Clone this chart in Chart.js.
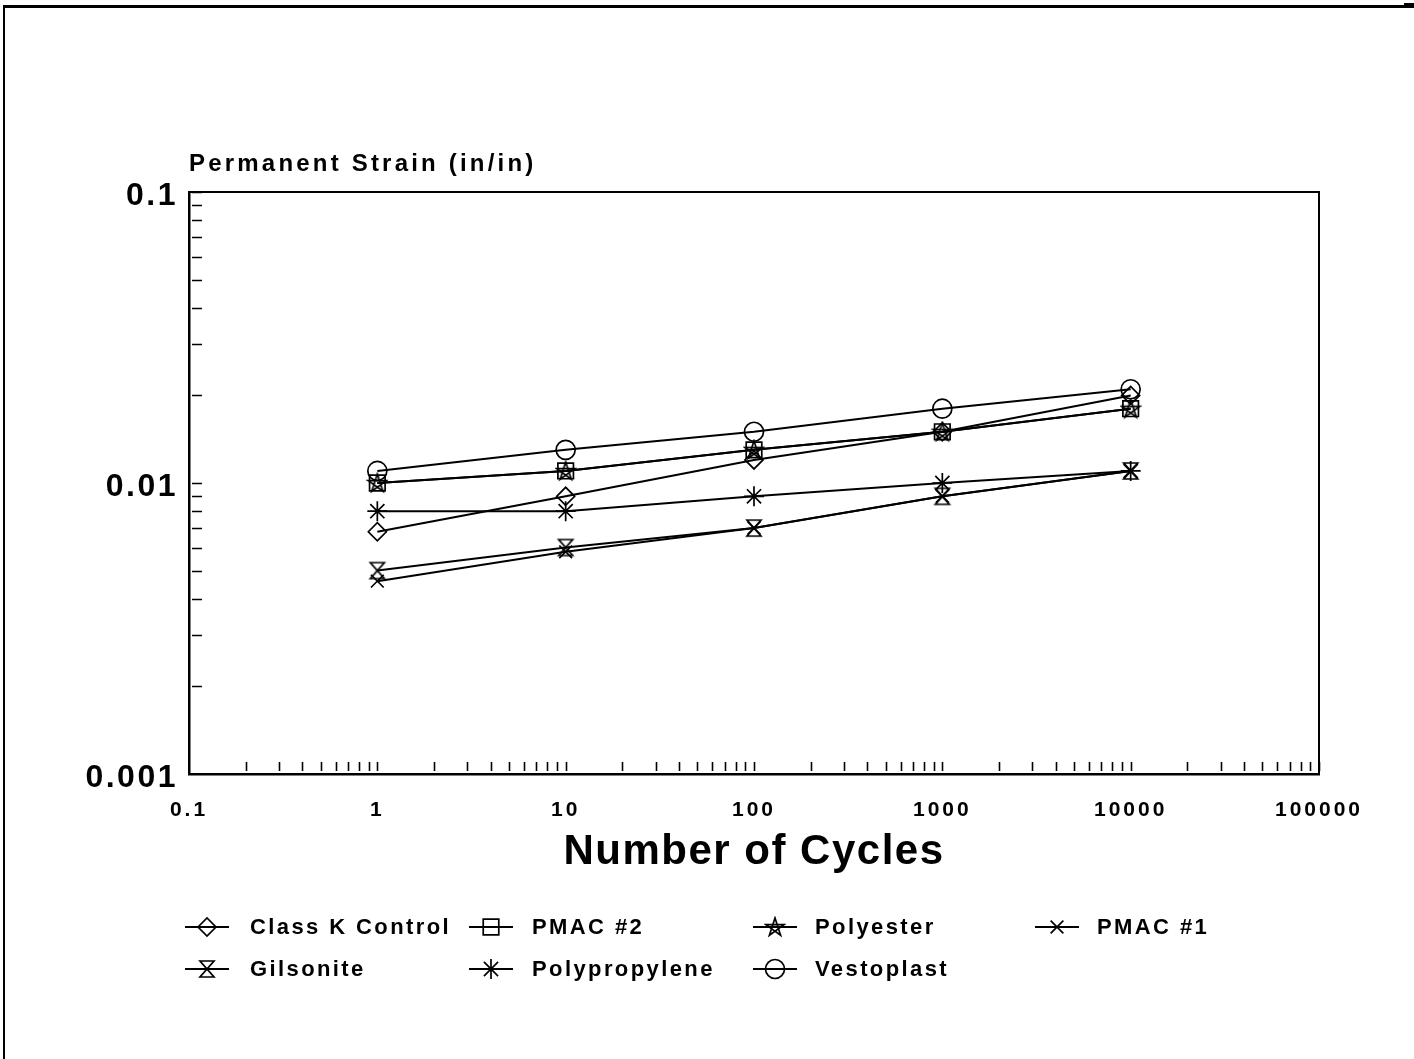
<!DOCTYPE html>
<html>
<head>
<meta charset="utf-8">
<title>Permanent Strain vs Number of Cycles</title>
<script src="https://cdn.jsdelivr.net/npm/chart.js@4.4.1/dist/chart.umd.min.js"></script>
<style>
  html, body { margin: 0; padding: 0; background: #ffffff; }
  canvas { display: block; }
</style>
</head>
<body>
<canvas id="strainChart" width="1414" height="1059"></canvas>
<script>
// ---- data ----
const cycles = [1, 10, 100, 1000, 10000];

const classKControl = [0.0068, 0.009, 0.012, 0.015, 0.020];
const pmac2         = [0.010, 0.011, 0.013, 0.015, 0.018];
const polyester     = [0.010, 0.011, 0.013, 0.015, 0.018];
const pmac1         = [0.0046, 0.0058, 0.007, 0.009, 0.011];
const gilsonite     = [0.005, 0.006, 0.007, 0.009, 0.011];
const polypropylene = [0.008, 0.008, 0.009, 0.010, 0.011];
const vestoplast    = [0.011, 0.013, 0.015, 0.018, 0.021];

const seriesNames = ['Class K Control', 'PMAC #2', 'Polyester', 'PMAC #1',
                     'Gilsonite', 'Polypropylene', 'Vestoplast'];
const seriesValues = [classKControl, pmac2, polyester, pmac1,
                      gilsonite, polypropylene, vestoplast];

const xTickValues = [0.1, 1, 10, 100, 1000, 10000, 100000];
const xTickLabels = ['0.1', '1', '10', '100', '1000', '10000', '100000'];
const yTickValues = [0.001, 0.01, 0.1];
const yTickLabels = ['0.001', '0.01', '0.1'];

const xTitle = 'Number of Cycles';
const yTitle = 'Permanent Strain (in/in)';

// ---- marker shapes ----
const FONT = '"Liberation Sans", Arial, Helvetica, sans-serif';

function makeMarker(size, draw) {
  const c = document.createElement('canvas');
  c.width = size; c.height = size;
  const g = c.getContext('2d');
  g.strokeStyle = '#000';
  g.lineWidth = 1.7;
  draw(g, size);
  return c;
}

// hourglass: two triangles meeting at the centre
const hourglassMarker = makeMarker(20, (g, s) => {
  g.beginPath();
  g.moveTo(3, 2);
  g.lineTo(s - 3, 2);
  g.lineTo(3, s - 2);
  g.lineTo(s - 3, s - 2);
  g.closePath();
  g.stroke();
});

// five-pointed star drawn as a pentagram
const pentagramMarker = makeMarker(22, (g, s) => {
  const cx = s / 2, cy = s / 2 + 0.5, r = s / 2 - 1.5;
  g.beginPath();
  [0, 2, 4, 1, 3].forEach((k, i) => {
    const a = -Math.PI / 2 + k * 2 * Math.PI / 5;
    const px = cx + r * Math.cos(a), py = cy + r * Math.sin(a);
    if (i === 0) g.moveTo(px, py); else g.lineTo(px, py);
  });
  g.closePath();
  g.stroke();
});

const markerStyles = [
  { pointStyle: 'rectRot', radius: 9 },          // Class K Control
  { pointStyle: 'rect', radius: 11 },            // PMAC #2
  { pointStyle: pentagramMarker, radius: 10 },   // Polyester
  { pointStyle: 'crossRot', radius: 9 },         // PMAC #1
  { pointStyle: hourglassMarker, radius: 10 },   // Gilsonite
  { pointStyle: 'star', radius: 10 },            // Polypropylene
  { pointStyle: 'circle', radius: 9.5 }          // Vestoplast
];

const datasets = seriesNames.map((name, i) => ({
  label: name,
  data: seriesValues[i],
  borderColor: '#000000',
  borderWidth: 2,
  backgroundColor: 'rgba(0,0,0,0)',
  pointStyle: markerStyles[i].pointStyle,
  pointRadius: markerStyles[i].radius,
  pointBorderColor: '#000000',
  pointBackgroundColor: 'rgba(0,0,0,0)',
  pointBorderWidth: 1.7,
  tension: 0,
  fill: false
}));

// ---- letter spacing for the axis tick labels ----
const TICK_SPACING = { x: '3px', y: '2.5px' };
const spacedTickLabels = {
  id: 'spacedTickLabels',
  beforeLayout(chart) {
    Object.keys(TICK_SPACING).forEach(id => {
      const scale = chart.scales[id];
      if (!scale || scale.__spaced) return;
      const base = scale.drawLabels;
      scale.drawLabels = function (area) {
        const ctx = this.ctx;
        const prev = ctx.letterSpacing;
        ctx.letterSpacing = TICK_SPACING[id];
        base.call(this, area);
        ctx.letterSpacing = prev || '0px';
      };
      scale.__spaced = true;
    });
  }
};

// ---- frame, minor ticks, titles and legend ----
const decorations = {
  id: 'decorations',
  beforeDraw(chart) {
    const ctx = chart.ctx;
    ctx.save();
    ctx.fillStyle = '#000';
    ctx.fillRect(3, 5, 1405, 3);      // page frame, top
    ctx.fillRect(3, 5, 2, 1054);      // page frame, left
    ctx.fillRect(1404, 3, 10, 5);
    ctx.restore();
  },
  afterDraw(chart) {
    const ctx = chart.ctx;
    const area = chart.chartArea;
    const xs = chart.scales.x, ys = chart.scales.y;
    ctx.save();
    ctx.strokeStyle = '#000';
    ctx.fillStyle = '#000';

    // top and right edges of the plot box
    ctx.lineWidth = 2;
    ctx.beginPath();
    ctx.moveTo(area.left, area.top);
    ctx.lineTo(area.right, area.top);
    ctx.lineTo(area.right, area.bottom);
    ctx.stroke();

    // log minor ticks, pointing into the plot
    ctx.lineWidth = 1.6;
    ctx.beginPath();
    for (let d = xs.min; d < xs.max * 0.999; d *= 10) {
      for (let m = 2; m <= 10; m++) {
        const px = Math.round(xs.getPixelForValue(d * m)) + 0.5;
        ctx.moveTo(px, area.bottom - 3);
        ctx.lineTo(px, area.bottom - 12);
      }
    }
    for (let d = ys.min; d < ys.max * 0.999; d *= 10) {
      for (let m = 2; m <= 10; m++) {
        const py = Math.round(ys.getPixelForValue(d * m)) + 0.5;
        ctx.moveTo(area.left + 3, py);
        ctx.lineTo(area.left + 13, py);
      }
    }
    ctx.stroke();

    // axis titles
    ctx.textBaseline = 'middle';
    ctx.textAlign = 'left';
    ctx.font = 'bold 24px ' + FONT;
    ctx.letterSpacing = '3.2px';
    ctx.fillText(yTitle, area.left, area.top - 28);

    ctx.textAlign = 'center';
    ctx.font = 'bold 42px ' + FONT;
    ctx.letterSpacing = '1.5px';
    ctx.fillText(xTitle, (area.left + area.right) / 2, area.bottom + 78);

    // legend: four columns, two rows
    const colIcon = [207, 491, 775, 1057];
    const colText = [250, 532, 815, 1097];
    const rowY = [927, 969];
    ctx.font = 'bold 22px ' + FONT;
    ctx.letterSpacing = '2.4px';
    ctx.textAlign = 'left';
    chart.data.datasets.forEach((ds, i) => {
      const cx = colIcon[i % 4], cy = rowY[Math.floor(i / 4)];
      ctx.lineWidth = 2;
      ctx.beginPath();
      ctx.moveTo(cx - 22, cy);
      ctx.lineTo(cx + 22, cy);
      ctx.stroke();
      ctx.lineWidth = 1.7;
      ctx.fillStyle = 'rgba(0,0,0,0)';
      Chart.helpers.drawPoint(ctx, {
        pointStyle: ds.pointStyle,
        radius: ds.pointRadius,
        rotation: 0,
        borderWidth: 1.7
      }, cx, cy);
      ctx.fillStyle = '#000';
      ctx.fillText(ds.label, colText[i % 4], cy + 1);
    });
    ctx.restore();
  }
};

const tickFont = (size) => ({ family: FONT, size: size, weight: 'bold' });

new Chart(document.getElementById('strainChart'), {
  type: 'line',
  data: { labels: cycles, datasets: datasets },
  options: {
    responsive: false,
    animation: false,
    devicePixelRatio: 1,
    layout: { padding: { top: 192, right: 95, bottom: 0, left: 0 } },
    plugins: {
      legend: { display: false },
      tooltip: { enabled: false }
    },
    scales: {
      x: {
        type: 'logarithmic',
        position: 'bottom',
        min: 0.1,
        max: 100000,
        afterBuildTicks: (scale) => { scale.ticks = xTickValues.map(v => ({ value: v })); },
        afterFit: (scale) => { scale.height = 285; },
        grid: { display: false, drawTicks: false },
        border: { display: true, color: '#000000', width: 2.5 },
        ticks: {
          autoSkip: false,
          maxRotation: 0,
          padding: 24,
          color: '#000000',
          font: tickFont(21),
          callback: (value) => xTickLabels[xTickValues.indexOf(value)]
        }
      },
      y: {
        type: 'logarithmic',
        position: 'left',
        min: 0.001,
        max: 0.1,
        afterBuildTicks: (scale) => { scale.ticks = yTickValues.map(v => ({ value: v })); },
        afterFit: (scale) => { scale.width = 189; },
        grid: { display: false, drawTicks: false },
        border: { display: true, color: '#000000', width: 2.5 },
        ticks: {
          autoSkip: false,
          padding: 11,
          labelOffset: 4,
          color: '#000000',
          font: tickFont(32),
          callback: (value) => yTickLabels[yTickValues.indexOf(value)]
        }
      }
    }
  },
  plugins: [spacedTickLabels, decorations]
});
</script>
</body>
</html>
